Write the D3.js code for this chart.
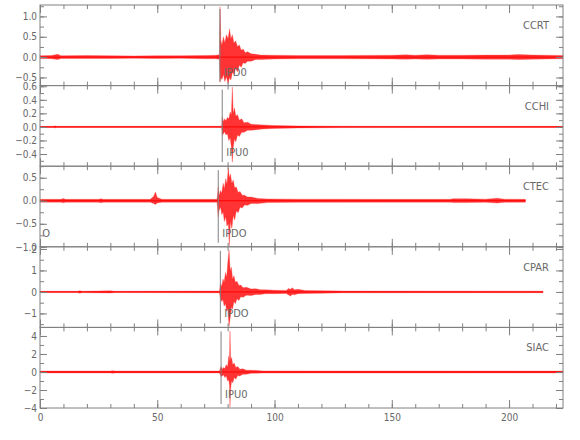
<!DOCTYPE html>
<html>
<head>
<meta charset="utf-8">
<script src="https://cdn.jsdelivr.net/npm/d3@7"></script>
<style>
  body { margin: 0; background: #fff; }
  svg text { font-family: "DejaVu Sans", sans-serif; font-stretch: condensed; fill: #686868; }
</style>
</head>
<body>
<svg id="chart" width="580" height="440"></svg>
<script>
// stations, top to bottom
const stations = ["CCRT", "CCHI", "CTEC", "CPAR", "SIAC"];
const yDomains = [[-0.70, 1.28], [-0.58, 0.61], [-1.0, 0.75], [-1.65, 2.1], [-4.0, 4.95]];
const majorSteps = [0.5, 0.2, 0.5, 1, 2];
const minorSteps = [0.25, 0.1, 0.25, 0.5, 1];
const decimals = [1, 1, 1, 0, 0];
const pickTimes = [76.7, 77.7, 76.0, 76.9, 77.2];
const pickLabels = ["IPD0", "IPU0", "IPDO", "IPDO", "IPU0"];
const xTicks = [0, 50, 100, 150, 200];

// trace envelopes: [time s, upper, lower]
const ccrt = [[0,.035,-.035],[5,.04,-.04],[7.5,.07,-.06],[9,.035,-.035],[20,.04,-.035],[30,.035,-.035],
  [40,.03,-.03],[50,.035,-.035],[60,.035,-.03],[70,.04,-.04],[75,.045,-.04],[76.5,.06,-.05],
  [76.8,1.24,-.62],[77.1,.42,-.5],[77.6,.3,-.55],[78.2,.5,-.42],[78.8,.35,-.6],[79.5,.55,-.48],
  [80.2,.45,-.66],[80.8,.69,-.5],[81.4,.45,-.56],[82,.55,-.38],[82.7,.34,-.42],[83.4,.4,-.28],
  [84.2,.26,-.36],[85,.3,-.2],[85.8,.17,-.25],[86.6,.2,-.14],[87.5,.11,-.16],[88.5,.13,-.1],
  [90,.08,-.1],[92,.07,-.06],[94,.05,-.06],[100,.045,-.045],[110,.04,-.04],[130,.04,-.04],
  [150,.045,-.045],[156,.055,-.05],[160,.045,-.045],[165,.06,-.055],[170,.045,-.045],[180,.045,-.045],
  [190,.05,-.05],[200,.05,-.05],[204,.065,-.06],[210,.05,-.05],[223,.04,-.04]];
const cchi = [[0,.008,-.008],[6,.008,-.008],[6.4,.018,-.015],[7,.008,-.008],[40,.008,-.008],[77.5,.01,-.01],
  [77.7,.15,-.12],[78.2,.08,-.1],[78.7,.12,-.07],[79.3,.09,-.12],[79.9,.14,-.1],[80.5,.12,-.2],
  [81.1,.22,-.16],[81.6,.18,-.3],[82,.59,-.52],[82.4,.2,-.3],[82.9,.28,-.18],[83.5,.16,-.22],
  [84.2,.18,-.12],[85,.1,-.14],[86,.12,-.08],[87,.06,-.08],[88.5,.07,-.05],[90,.04,-.05],
  [95,.03,-.03],[100,.022,-.022],[110,.015,-.015],[130,.01,-.01],[223,.008,-.008]];
const ctec = [[0,.03,-.03],[9,.03,-.03],[9.8,.05,-.045],[11,.03,-.03],[25,.03,-.03],[26,.045,-.045],[27,.03,-.03],
  [47,.03,-.03],[48.5,.1,-.06],[49.2,.19,-.08],[50,.07,-.05],[52,.03,-.03],[75.5,.03,-.03],
  [76,.3,-.35],[76.4,.12,-.2],[77,.22,-.14],[77.5,.16,-.3],[78.1,.38,-.25],[78.6,.26,-.45],
  [79.2,.48,-.35],[79.7,.36,-.55],[80.3,.72,-.5],[80.7,.5,-.98],[81.2,.58,-.45],[81.8,.38,-.6],
  [82.4,.45,-.32],[83,.28,-.42],[83.7,.3,-.22],[84.5,.18,-.26],[85.3,.2,-.14],[86.2,.12,-.16],
  [87.2,.12,-.09],[88.5,.08,-.1],[90,.08,-.06],[93,.05,-.06],[97,.04,-.04],[110,.035,-.035],
  [150,.03,-.03],[175,.03,-.03],[176,.045,-.04],[182,.045,-.04],[190,.035,-.035],[195,.055,-.05],
  [198,.035,-.035],[207,.03,-.03]];
const cpar = [[0,.03,-.03],[16,.03,-.03],[17,.06,-.06],[18,.03,-.03],[30,.05,-.05],[32,.03,-.03],
  [76.5,.04,-.04],[77,.4,-.3],[77.5,.25,-.45],[78,.6,-.35],[78.5,.45,-.65],[79.1,.9,-.55],
  [79.6,.7,-.9],[80.1,1.4,-.8],[80.6,1.95,-1.6],[81.1,1.0,-1.2],[81.6,1.15,-.7],[82.1,.6,-.8],
  [82.7,.75,-.45],[83.3,.45,-.55],[84,.5,-.32],[84.8,.3,-.4],[85.6,.32,-.22],[86.6,.2,-.25],
  [88,.22,-.15],[90,.14,-.17],[92,.15,-.12],[94,.1,-.12],[96,.1,-.08],[100,.08,-.08],[105,.07,-.07],
  [106,.16,-.14],[106.8,.12,-.19],[107.5,.2,-.12],[108.5,.1,-.13],[110,.12,-.08],[113,.07,-.07],
  [120,.06,-.06],[130,.04,-.04],[214.5,.035,-.035]];
const siac = [[0,.1,-.1],[30,.1,-.1],[31,.15,-.15],[32,.1,-.1],[76.5,.1,-.1],[77.2,.6,-.5],[77.7,.3,-.45],
  [78.2,.5,-.3],[78.8,.4,-.6],[79.4,.8,-.45],[80,.6,-1.0],[80.5,1.8,-.9],[80.8,1.2,-1.5],[81,4.55,-3.9],
  [81.3,1.3,-1.8],[81.7,1.6,-1.0],[82.2,.8,-1.2],[82.8,1.0,-.6],[83.5,.5,-.8],[84.3,.6,-.4],
  [85.2,.3,-.45],[86.5,.35,-.25],[88,.2,-.25],[90,.2,-.15],[95,.12,-.12],[223,.1,-.1]];
const traces = [ccrt, cchi, ctec, cpar, siac];

const svg = d3.select("#chart");
const mLeft = 40, mRight = 563, mTop = 5, mBottom = 408;
const panelH = (mBottom - mTop) / stations.length;
const x = d3.scaleLinear().domain([0, 223]).range([mLeft, mRight]);

const area = d3.area().x(d => x(d[0]));

stations.forEach(function(name, i) {
    const y0 = mTop + i * panelH, y1 = y0 + panelH;
    const y = d3.scaleLinear().domain(yDomains[i]).range([y1, y0]);
    const g = svg.append("g");

    // trace
    const tr = traces[i];
    g.append("path")
        .datum(tr)
        .attr("d", area.y0(d => y(d[2])).y1(d => y(d[1])))
        .style("fill", "#ff0000")
        .style("fill-opacity", 0.8)
        .style("stroke", "#ff3030")
        .style("stroke-opacity", 0.6)
        .style("stroke-width", 0.5);
    g.append("line")
        .attr("x1", x(tr[0][0])).attr("x2", x(tr[tr.length - 1][0]))
        .attr("y1", y(0)).attr("y2", y(0))
        .style("stroke", "#ff0000").style("stroke-width", 1);

    // pick marker
    const px = x(pickTimes[i]);
    g.append("line")
        .attr("x1", px).attr("x2", px)
        .attr("y1", y0 + 4).attr("y2", y1 - 4)
        .style("stroke", "#808080").style("stroke-width", 1);
    g.append("text")
        .attr("x", px + 4).attr("y", y1 - 10)
        .style("font-size", "11px")
        .text(pickLabels[i]);

    // station name
    g.append("text")
        .attr("x", 549).attr("y", y0 + 24)
        .attr("text-anchor", "end")
        .style("font-size", "11px")
        .text(name);

    // y axes
    const dom = yDomains[i];
    const eps = 1e-6;
    const major = d3.range(Math.ceil(dom[0] / majorSteps[i] - eps) * majorSteps[i], dom[1] + eps, majorSteps[i]);
    const minor = d3.range(Math.ceil(dom[0] / minorSteps[i] - eps) * minorSteps[i], dom[1] + eps, minorSteps[i]);
    const fmt = v => (Math.abs(v) < 1e-9 ? 0 : v).toFixed(decimals[i]).replace("-", "\u2212");

    g.append("g").attr("transform", `translate(${mLeft},0)`)
        .call(d3.axisLeft(y).tickValues(major).tickSize(-7).tickPadding(3).tickFormat(fmt));
    g.append("g").attr("transform", `translate(${mLeft},0)`)
        .call(d3.axisLeft(y).tickValues(minor).tickSize(-4).tickFormat(""));
    g.append("g").attr("transform", `translate(${mRight},0)`)
        .call(d3.axisRight(y).tickValues(major).tickSize(-7).tickFormat(""));
    g.append("g").attr("transform", `translate(${mRight},0)`)
        .call(d3.axisRight(y).tickValues(minor).tickSize(-4).tickFormat(""));

    // x ticks top and bottom
    const xMinor = d3.range(0, 224, 10);
    g.append("g").attr("transform", `translate(0,${y0})`)
        .call(d3.axisBottom(x).tickValues(xMinor).tickSize(4).tickFormat(""));
    g.append("g").attr("transform", `translate(0,${y0})`)
        .call(d3.axisBottom(x).tickValues(xTicks).tickSize(8).tickFormat(""));
    g.append("g").attr("transform", `translate(0,${y1})`)
        .call(d3.axisTop(x).tickValues(xMinor).tickSize(4).tickFormat(""));
    g.append("g").attr("transform", `translate(0,${y1})`)
        .call(d3.axisTop(x).tickValues(xTicks).tickSize(8).tickFormat(""));

    g.append("rect")
        .attr("x", mLeft).attr("y", y0)
        .attr("width", mRight - mLeft).attr("height", panelH)
        .style("fill", "none").style("stroke", "#808080");
});

// origin label in CTEC panel
svg.append("text")
    .attr("x", x(1)).attr("y", mTop + 3 * panelH - 10)
    .style("font-size", "11px")
    .text("O");

// bottom time labels
svg.append("g").attr("transform", `translate(0,${mBottom})`)
    .call(d3.axisBottom(x).tickValues(xTicks).tickSize(0).tickPadding(6));

svg.selectAll(".domain").remove();
svg.selectAll(".tick line").style("stroke", "#808080");
svg.selectAll(".tick text").style("font-size", "10px").style("fill", "#686868")
    .style("font-family", "\"DejaVu Sans\", sans-serif").style("font-stretch", "condensed");
</script>
</body>
</html>
